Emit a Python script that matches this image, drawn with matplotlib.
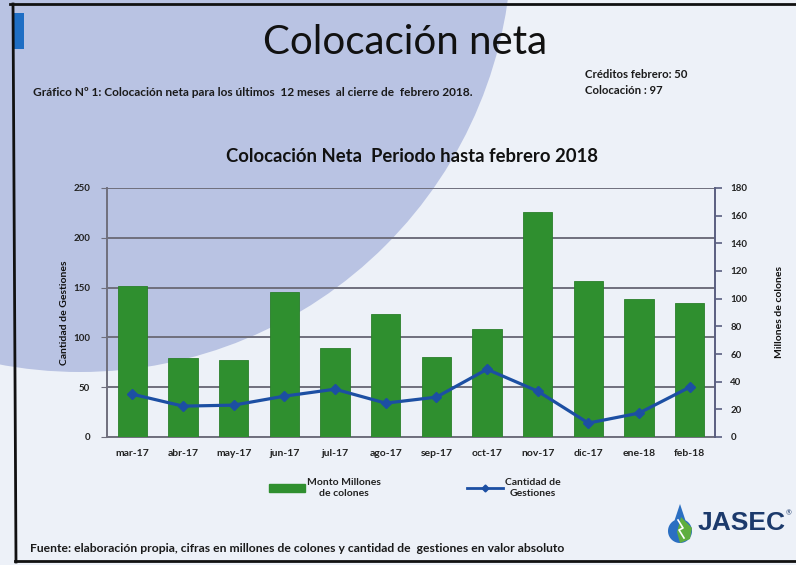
import matplotlib
matplotlib.use('Agg')
import matplotlib.pyplot as plt
import numpy as np
from matplotlib.patches import Circle, Rectangle, Polygon, Patch
from matplotlib.lines import Line2D

# ---- data ----
months = ['mar-17', 'abr-17', 'may-17', 'jun-17', 'jul-17', 'ago-17',
          'sep-17', 'oct-17', 'nov-17', 'dic-17', 'ene-18', 'feb-18']
monto_millones = [109, 57, 56, 105, 64, 89, 58, 78, 163, 113, 100, 97]
cantidad_gestiones = [43, 31, 32, 41, 48, 34, 40, 68, 46, 14, 24, 50]
left_ticks = [0, 50, 100, 150, 200, 250]
right_ticks = [0, 20, 40, 60, 80, 100, 120, 140, 160, 180]

FONT = ['Lato', 'DejaVu Sans']
plt.rcParams['font.family'] = FONT

W, H = 796, 565
fig = plt.figure(figsize=(W / 100, H / 100), dpi=100)
fig.patch.set_facecolor('#edf1f8')

# ---- slide background (pixel coordinates) ----
bg = fig.add_axes([0, 0, 1, 1], zorder=0)
bg.set_xlim(0, W)
bg.set_ylim(H, 0)
bg.axis('off')
bg.add_patch(Circle((80, -60), 432, color='#b9c3e3', lw=0))
bg.add_patch(Rectangle((14, 13), 10, 36, color='#1f6ec4', lw=0))

# ---- chart axes ----
pos = [107 / W, 1 - 437 / H, 608 / W, 249 / H]
x = np.arange(len(months))
grid_c = '#6f6f7d'

axg = fig.add_axes(pos, zorder=1)
axg.patch.set_alpha(0)
axg.set_xlim(-0.5, len(months) - 0.5)
axg.set_ylim(0, 250)
axg.set_yticks(left_ticks)
axg.set_yticklabels([str(v) for v in left_ticks], fontsize=7, fontweight='bold', color='#222222')
axg.yaxis.grid(True, color=grid_c, lw=1.4)
axg.tick_params(axis='y', length=4, color=grid_c, pad=8)
axg.tick_params(axis='x', length=0, pad=9)
axg.set_xticks(x)
axg.set_xticklabels(months, fontsize=7.5, fontweight='bold', color='#222222')
axg.set_ylabel('Cantidad de Gestiones', fontsize=7.5, fontweight='bold', color='#111111', labelpad=3)
for s in ['top', 'right']:
    axg.spines[s].set_visible(False)
for s in ['left', 'bottom']:
    axg.spines[s].set_color(grid_c)
    axg.spines[s].set_linewidth(1.4)

axb = fig.add_axes(pos, zorder=2)
axb.patch.set_alpha(0)
axb.set_xlim(-0.5, len(months) - 0.5)
axb.set_ylim(0, 180)
axb.bar(x, monto_millones, width=0.58, color='#2f8f2f', edgecolor='#2a7f2a', lw=0.6)
axb.yaxis.tick_right()
axb.yaxis.set_label_position('right')
axb.set_yticks(right_ticks)
axb.set_yticklabels([str(v) for v in right_ticks], fontsize=7, fontweight='bold', color='#222222')
axb.tick_params(axis='y', length=5, color='#5a5f80', width=1.2, pad=6)
axb.set_xticks([])
axb.set_ylabel('Millones de colones', fontsize=7.5, fontweight='bold', color='#111111', labelpad=20)
for s in ['top', 'left', 'bottom']:
    axb.spines[s].set_visible(False)
axb.spines['right'].set_color('#5a5f80')
axb.spines['right'].set_linewidth(1.4)

axl = fig.add_axes(pos, zorder=3)
axl.patch.set_alpha(0)
axl.set_xlim(-0.5, len(months) - 0.5)
axl.set_ylim(0, 250)
axl.plot(x, cantidad_gestiones, color='#1c4fa3', lw=2.3, marker='D', ms=5)
axl.axis('off')

# ---- legend ----
handles = [Patch(facecolor='#2f8f2f', edgecolor='#2f8f2f'),
           Line2D([], [], color='#1c4fa3', lw=2, marker='D', ms=3.5)]
leg = fig.legend(handles, ['Monto Millones\nde colones', 'Cantidad de\nGestiones'],
                 loc='center', bbox_to_anchor=(415 / W, 1 - 488 / H), ncol=2,
                 frameon=False, fontsize=7.5, handlelength=3.4, handleheight=0.7,
                 handletextpad=0.2, columnspacing=8.3)
for t in leg.get_texts():
    t.set_multialignment('center')
    t.set_fontweight('bold')
    t.set_color('#222222')

# ---- texts ----
fig.text(405 / W, 1 - 42 / H, 'Colocación neta', ha='center', va='center', fontsize=29, color='#111111')
fig.text(33 / W, 1 - 93 / H,
         'Gráfico Nº 1: Colocación neta para los últimos  12 meses  al cierre de  febrero 2018.',
         ha='left', va='center', fontsize=8.6, fontweight='bold', color='#1a1a1a')
fig.text(585 / W, 1 - 74 / H, 'Créditos febrero: 50', ha='left', va='center', fontsize=8.2,
         fontweight='bold', color='#1a1a1a')
fig.text(585 / W, 1 - 91 / H, 'Colocación : 97', ha='left', va='center', fontsize=8.2,
         fontweight='bold', color='#1a1a1a')
fig.text(412 / W, 1 - 157 / H, 'Colocación Neta  Periodo hasta febrero 2018', ha='center', va='center',
         fontsize=13.3, fontweight='bold', color='#111111')
fig.text(30 / W, 1 - 549 / H,
         'Fuente: elaboración propia, cifras en millones de colones y cantidad de  gestiones en valor absoluto',
         ha='left', va='center', fontsize=8.7, fontweight='bold', color='#1a1a1a')

# ---- logo and frame (overlay) ----
fg = fig.add_axes([0, 0, 1, 1], zorder=5)
fg.set_xlim(0, W)
fg.set_ylim(H, 0)
fg.axis('off')
cx, cy, r = 680, 531, 12
angs = np.linspace(-0.35 * np.pi, 1.35 * np.pi, 80)
pts = [(cx, 504)] + [(cx + r * np.cos(a), cy + r * np.sin(a)) for a in angs]
fg.add_patch(Polygon(pts, closed=True, color='#2b6fc2', lw=0))
fg.add_patch(Polygon([(cx + 1, 517), (cx + 12, 528), (cx + 10, 539), (cx, 543), (cx - 3, 532)],
                     closed=True, color='#5fae3e', lw=0))
fg.plot([cx - 2, cx + 3, cx - 1, cx + 4], [520, 528, 530, 538], color='white', lw=1.2)
fg.text(698, 523, 'JASEC', ha='left', va='center', fontsize=19, fontweight='bold',
        color='#1c3a6c', family=['Liberation Sans', 'DejaVu Sans'])
fg.text(786, 513, '®', ha='left', va='center', fontsize=5, color='#1c3a6c')
fg.plot([10, W], [4, 4], color='#111111', lw=2)
fg.plot([13, 16], [4, 562], color='#111111', lw=2)
fg.plot([15, W], [561, 561], color='#111111', lw=2)

fig.savefig('out.png', dpi=100, facecolor=fig.get_facecolor())
